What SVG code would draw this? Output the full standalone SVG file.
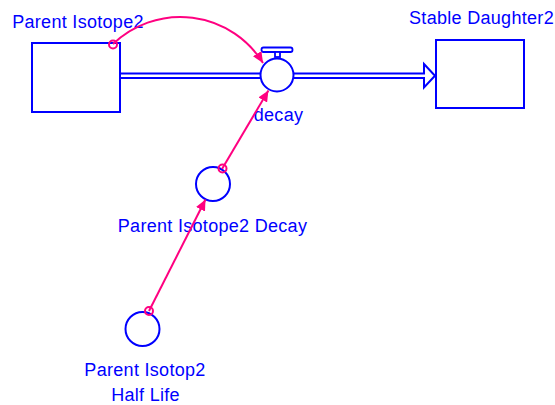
<svg xmlns="http://www.w3.org/2000/svg" width="555" height="405" viewBox="0 0 555 405">
  <style>
    .stock { fill: #ffffff; stroke: #0000ff; stroke-width: 2; }
    .aux { fill: #ffffff; stroke: #0000ff; stroke-width: 2; }
    .pipe { fill: none; stroke: #0000ff; stroke-width: 2; }
    .label { font-family: "Liberation Sans", Arial, sans-serif; font-size: 18px; letter-spacing: 0.3px; fill: #0000ff; text-anchor: middle; }
    .link { fill: none; stroke: #ff0080; stroke-width: 2; }
    .tail { fill: none; stroke: #ff0080; stroke-width: 2; }
  </style>
  <defs>
    <marker id="linkHead" markerUnits="userSpaceOnUse" markerWidth="12" markerHeight="10" refX="11" refY="5" orient="auto">
      <path d="M0,0 L11,5 L0,10 z" fill="#ff0080"/>
    </marker>
  </defs>

  <!-- material flow pipe -->
  <g id="flow-pipe">
    <line class="pipe" x1="120" y1="73.5" x2="260" y2="73.5"/>
    <line class="pipe" x1="120" y1="78" x2="260" y2="78"/>
    <line class="pipe" x1="293" y1="73.5" x2="424" y2="73.5"/>
    <line class="pipe" x1="293" y1="78" x2="424" y2="78"/>
    <path class="pipe" d="M424,64 L435,75.75 L424,87.5 Z" fill="#ffffff"/>
    <line x1="424" y1="74.5" x2="424" y2="77" stroke="#ffffff" stroke-width="2"/>
  </g>

  <g id="parent-isotope2">
    <rect class="stock" x="32" y="43" width="88" height="69"/>
    <text class="label" x="78" y="28">Parent Isotope2</text>
  </g>

  <g id="stable-daughter2">
    <rect class="stock" x="436" y="40" width="88" height="68"/>
    <text class="label" x="481.5" y="24">Stable Daughter2</text>
  </g>

  <g id="decay">
    <rect x="261.5" y="47.5" width="31" height="4.5" rx="2" fill="#ffffff" stroke="#0000ff" stroke-width="1.8"/>
    <rect x="275" y="52" width="5" height="5" fill="#ffffff" stroke="#0000ff" stroke-width="1.8"/>
    <circle class="aux" cx="277" cy="75" r="16.5"/>
    <text class="label" x="278.5" y="121">decay</text>
  </g>

  <g id="parent-isotope2-decay">
    <circle class="aux" cx="213" cy="184" r="17"/>
    <text class="label" x="212.5" y="232">Parent Isotope2 Decay</text>
  </g>

  <g id="parent-isotop2-half-life">
    <circle class="aux" cx="142.5" cy="329" r="17"/>
    <text class="label" x="145" y="376">Parent Isotop2</text>
    <text class="label" x="145.5" y="401">Half Life</text>
  </g>

  <!-- information links -->
  <g id="connectors">
    <path class="link" d="M113,44 A97.3,97.3 0 0 1 263,63" marker-end="url(#linkHead)"/>
    <circle class="tail" cx="113" cy="44.5" r="4"/>
    <path class="link" d="M222,169 L268.4,90.5" marker-end="url(#linkHead)"/>
    <circle class="tail" cx="222.5" cy="168.5" r="4"/>
    <path class="link" d="M149,311 L205.5,199.5" marker-end="url(#linkHead)"/>
    <circle class="tail" cx="149" cy="311" r="4"/>
  </g>
</svg>
